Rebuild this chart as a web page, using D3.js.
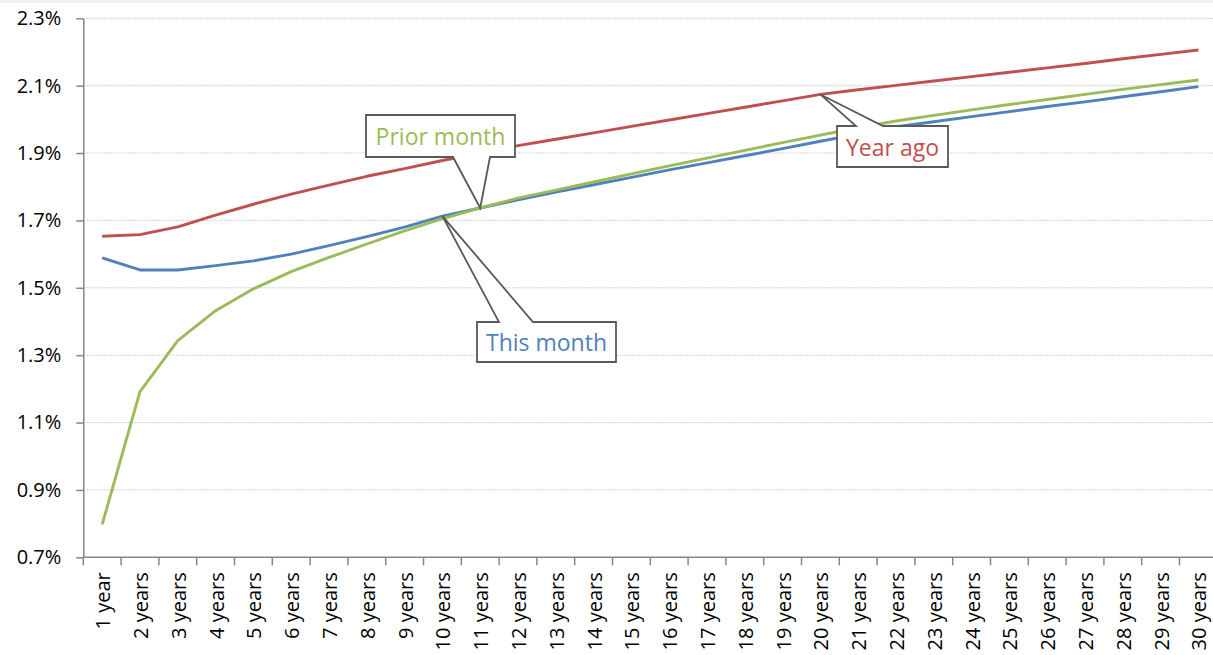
<!DOCTYPE html>
<html lang="en">
<head>
    <meta charset="UTF-8">
    <title>Yield curve: this month, prior month, year ago</title>
    <style>
        body {
            margin: 0;
            background-color: #ffffff;
            font-family: "Open Sans", sans-serif;
        }
        svg {
            display: block;
        }
        .series {
            fill: none;
            stroke-width: 2.9px;
            stroke-linejoin: round;
        }
        .grid line {
            stroke: #c4c4c4;
            stroke-width: 1px;
            stroke-dasharray: 1.5, 1.5;
        }
        .axis path, .axis line {
            stroke: #868686;
            stroke-width: 1.5px;
        }
        .axis text {
            font-family: "Open Sans", sans-serif;
            font-size: 20px;
            fill: #000;
        }
        .callout path {
            fill: #ffffff;
            stroke: #595959;
            stroke-width: 1.8px;
        }
        .callout text {
            font-size: 23px;
        }
    </style>
</head>
<body>
    <svg id="chart" width="1213" height="655"></svg>
    <script src="https://d3js.org/d3.v7.min.js"></script>
    <script>
        // Maturities on the x axis
        const maturities = d3.range(1, 31).map(n => n === 1 ? "1 year" : `${n} years`);

        // Yield (%) for each maturity
        const thisMonth = [
            1.589, 1.553, 1.553, 1.566, 1.580, 1.600, 1.625, 1.652, 1.680, 1.713,
            1.737, 1.761, 1.784, 1.806, 1.828, 1.850, 1.871, 1.892, 1.913, 1.935,
            1.956, 1.978, 1.993, 2.008, 2.023, 2.038, 2.052, 2.067, 2.082, 2.097
        ];
        const priorMonth = [
            0.798, 1.192, 1.343, 1.432, 1.497, 1.548, 1.590, 1.630, 1.669, 1.705,
            1.737, 1.766, 1.790, 1.814, 1.838, 1.862, 1.885, 1.908, 1.931, 1.953,
            1.975, 1.995, 2.012, 2.028, 2.044, 2.059, 2.074, 2.089, 2.103, 2.117
        ];
        const yearAgo = [
            1.653, 1.658, 1.681, 1.716, 1.748, 1.778, 1.805, 1.831, 1.854, 1.878,
            1.900, 1.922, 1.941, 1.960, 1.979, 1.998, 2.017, 2.036, 2.055, 2.074,
            2.088, 2.101, 2.114, 2.127, 2.140, 2.153, 2.166, 2.180, 2.193, 2.206
        ];

        const yTicks = [0.7, 0.9, 1.1, 1.3, 1.5, 1.7, 1.9, 2.1, 2.3];

        const seriesList = [
            { name: "Year ago", values: yearAgo, color: "#C0504D" },
            { name: "This month", values: thisMonth, color: "#4F81BD" },
            { name: "Prior month", values: priorMonth, color: "#9BBB59" }
        ];

        // Callout boxes: which series/maturity they point at, and where the box sits
        const callouts = [
            { series: "Prior month", at: 11, box: [366, 115, 515, 157], side: "bottom", base: [453, 490] },
            { series: "This month", at: 10, box: [477, 322, 616, 362], side: "top", base: [499, 533] },
            { series: "Year ago", at: 20, box: [837, 126, 948, 167], side: "top", base: [856, 883] }
        ];

        const plot = { left: 83.3, top: 18.3, bottom: 557.3, step: 37.8 };

        const svg = d3.select("#chart");

        svg.append("rect")
            .attr("width", 1213)
            .attr("height", 3)
            .attr("fill", "#f0f0f0");

        const x = d3.scaleBand()
            .domain(maturities)
            .range([plot.left, plot.left + plot.step * maturities.length]);

        const y = d3.scaleLinear()
            .domain([0.7, 2.3])
            .range([plot.bottom, plot.top]);

        const cx = d => x(d) + x.bandwidth() / 2;

        // dotted horizontal gridlines
        svg.append("g")
            .attr("class", "grid")
            .selectAll("line")
            .data(yTicks.filter(t => t > 0.7))
            .join("line")
            .attr("x1", plot.left)
            .attr("x2", 1213)
            .attr("y1", d => y(d))
            .attr("y2", d => y(d));

        // y axis
        svg.append("g")
            .attr("class", "axis")
            .attr("transform", `translate(${plot.left},0)`)
            .call(d3.axisLeft(y)
                .tickValues(yTicks)
                .tickSize(7)
                .tickSizeOuter(0)
                .tickPadding(15)
                .tickFormat(d => d3.format(".1f")(d) + "%"));

        // x axis: ticks between categories, labels rotated
        const xAxis = svg.append("g")
            .attr("class", "axis")
            .attr("transform", `translate(0,${plot.bottom})`);

        xAxis.append("line")
            .attr("x1", plot.left)
            .attr("x2", 1213);

        xAxis.selectAll(".tick-mark")
            .data(maturities)
            .join("line")
            .attr("class", "tick-mark")
            .attr("x1", d => x(d))
            .attr("x2", d => x(d))
            .attr("y1", 0)
            .attr("y2", 8);

        xAxis.selectAll("text")
            .data(maturities)
            .join("text")
            .attr("transform", d => `translate(${cx(d)},15) rotate(-90)`)
            .attr("text-anchor", "end")
            .attr("dy", "0.4em")
            .text(d => d);

        // series lines
        const line = d3.line()
            .x((d, i) => cx(maturities[i]))
            .y(d => y(d));

        svg.selectAll(".series")
            .data(seriesList)
            .join("path")
            .attr("class", "series")
            .attr("stroke", d => d.color)
            .attr("d", d => line(d.values));

        // callouts
        callouts.forEach(c => {
            const s = seriesList.find(d => d.name === c.series);
            const tipX = cx(maturities[c.at - 1]);
            const tipY = y(s.values[c.at - 1]);
            const [x0, y0, x1, y1] = c.box;
            const [p1, p2] = c.base;
            const p = d3.path();
            if (c.side === "bottom") {
                p.moveTo(x0, y0); p.lineTo(x1, y0); p.lineTo(x1, y1);
                p.lineTo(p2, y1); p.lineTo(tipX, tipY); p.lineTo(p1, y1);
                p.lineTo(x0, y1); p.closePath();
            } else {
                p.moveTo(x0, y0); p.lineTo(p1, y0); p.lineTo(tipX, tipY);
                p.lineTo(p2, y0); p.lineTo(x1, y0); p.lineTo(x1, y1);
                p.lineTo(x0, y1); p.closePath();
            }
            const g = svg.append("g").attr("class", "callout");
            g.append("path").attr("d", p.toString());
            g.append("text")
                .attr("x", (x0 + x1) / 2)
                .attr("y", (y0 + y1) / 2)
                .attr("text-anchor", "middle")
                .attr("dominant-baseline", "central")
                .attr("fill", s.color)
                .text(c.series);
        });
    </script>
</body>
</html>
